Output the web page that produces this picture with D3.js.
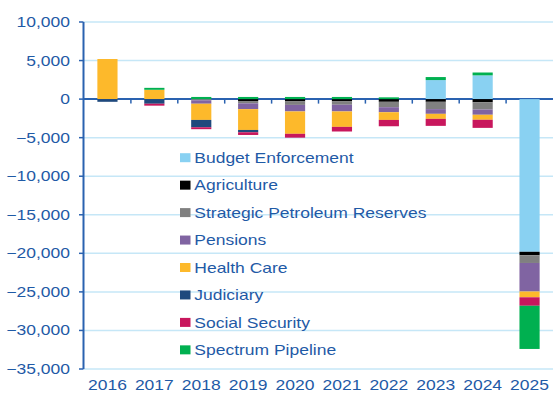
<!DOCTYPE html>
<html>
<head>
<meta charset="utf-8">
<script src="https://cdn.jsdelivr.net/npm/d3@7"></script>
<style>
  html, body { margin: 0; padding: 0; background: #fff; }
  svg { display: block; }
  text { font-family: "Liberation Sans", Arial, sans-serif; }
</style>
</head>
<body>
<svg id="chart" width="553" height="396"></svg>
<script>
// ---- Data ----
const years = ["2016","2017","2018","2019","2020","2021","2022","2023","2024","2025"];
const seriesNames = ["Budget Enforcement","Agriculture","Strategic Petroleum Reserves","Pensions","Health Care","Judiciary","Social Security","Spectrum Pipeline"];
const seriesColors = ["#89d1f2","#000000","#808080","#8064a2","#fdb92b","#1f497d","#c8175d","#00b050"];
const budgetEnforcement = [0, 0, 0, 0, 0, 0, 0, 2470, 3080, -19800];
const agriculture       = [0, 0, 0, -250, -300, -300, -350, -350, -400, -450];
const strategicPetroleum= [0, 0, -150, -300, -450, -430, -700, -950, -950, -1000];
const pensions          = [0, 0, -450, -750, -850, -870, -650, -610, -680, -3700];
const healthCare        = [5200, 1210, -2100, -2700, -2900, -2000, -1000, -650, -650, -750];
const judiciary         = [-350, -600, -950, -300, 0, 0, 0, 0, 0, 0];
const socialSecurity    = [0, -250, -250, -350, -500, -600, -820, -910, -1050, -1100];
const spectrumPipeline  = [0, 250, 280, 280, 280, 280, 230, 390, 370, -5600];
const yTicks = [10000, 5000, 0, -5000, -10000, -15000, -20000, -25000, -30000, -35000];

const allSeries = [budgetEnforcement, agriculture, strategicPetroleum, pensions, healthCare, judiciary, socialSecurity, spectrumPipeline];
const table = years.map((y, i) => {
  const row = { year: y };
  seriesNames.forEach((n, k) => row[n] = allSeries[k][i]);
  return row;
});

// ---- Layout ----
const svg = d3.select("#chart");
const textColor = "#1f5aa6";
const axisColor = "#2a62b0";
const gridColor = "#c6e7f7";
const SX = 1.25;

const x = d3.scaleBand().domain(years).range([84, 553]).paddingInner(0.57).paddingOuter(0.285);
const y = d3.scaleLinear().domain([-35000, 10000]).range([369, 22]);

// gridlines
svg.append("g").selectAll("line").data(yTicks.filter(t => t !== 0)).join("line")
  .attr("x1", 84).attr("x2", 553)
  .attr("y1", d => y(d)).attr("y2", d => y(d))
  .attr("stroke", gridColor).attr("stroke-width", 1.5);

// zero line (behind bars)
svg.append("line").attr("x1", 83.5).attr("x2", 553).attr("y1", y(0)).attr("y2", y(0))
  .attr("stroke", axisColor).attr("stroke-width", 2);
// x ticks at band boundaries
svg.append("g").selectAll("line").data(years.slice(1)).join("line")
  .attr("x1", d => x(d) - x.step() * x.paddingInner() / 2)
  .attr("x2", d => x(d) - x.step() * x.paddingInner() / 2)
  .attr("y1", y(0)).attr("y2", y(0) + 4.5)
  .attr("stroke", axisColor).attr("stroke-width", 1.5);

// bars
const stack = d3.stack().keys(seriesNames).offset(d3.stackOffsetDiverging);
const stacked = stack(table);
svg.append("g").selectAll("g").data(stacked).join("g")
  .attr("fill", (d, i) => seriesColors[i])
  .selectAll("rect").data(d => d).join("rect")
  .attr("x", d => x(d.data.year))
  .attr("width", x.bandwidth())
  .attr("y", d => y(Math.max(d[0], d[1])))
  .attr("height", d => Math.abs(y(d[0]) - y(d[1])));

// y axis line
svg.append("line").attr("x1", 83.5).attr("x2", 83.5).attr("y1", y(10000)).attr("y2", y(-35000))
  .attr("stroke", axisColor).attr("stroke-width", 2);
// y ticks
svg.append("g").selectAll("line").data(yTicks).join("line")
  .attr("x1", 79).attr("x2", 83.5)
  .attr("y1", d => y(d)).attr("y2", d => y(d))
  .attr("stroke", axisColor).attr("stroke-width", 1.5);
// y labels
const fmt = d3.format(",");
svg.append("g").selectAll("text").data(yTicks).join("text")
  .attr("transform", d => `translate(70,${y(d) + 5}) scale(${SX},1)`)
  .attr("text-anchor", "end")
  .attr("font-size", 14)
  .attr("fill", textColor)
  .text(d => fmt(d));

// x labels
svg.append("g").selectAll("text").data(years).join("text")
  .attr("transform", d => `translate(${x(d) + x.bandwidth() / 2},${390}) scale(${SX},1)`)
  .attr("text-anchor", "middle")
  .attr("font-size", 14)
  .attr("fill", textColor)
  .text(d => d);

// legend
const legend = svg.append("g").selectAll("g").data(seriesNames).join("g")
  .attr("transform", (d, i) => `translate(180,${157.7 + i * 27.45})`);
legend.append("rect").attr("x", 0).attr("y", -4.5).attr("width", 10.5).attr("height", 9)
  .attr("fill", (d, i) => seriesColors[i]);
legend.append("text")
  .attr("transform", `translate(14.3,5.2) scale(${SX},1)`)
  .attr("font-size", 14)
  .attr("fill", textColor)
  .text(d => d);
</script>
</body>
</html>
